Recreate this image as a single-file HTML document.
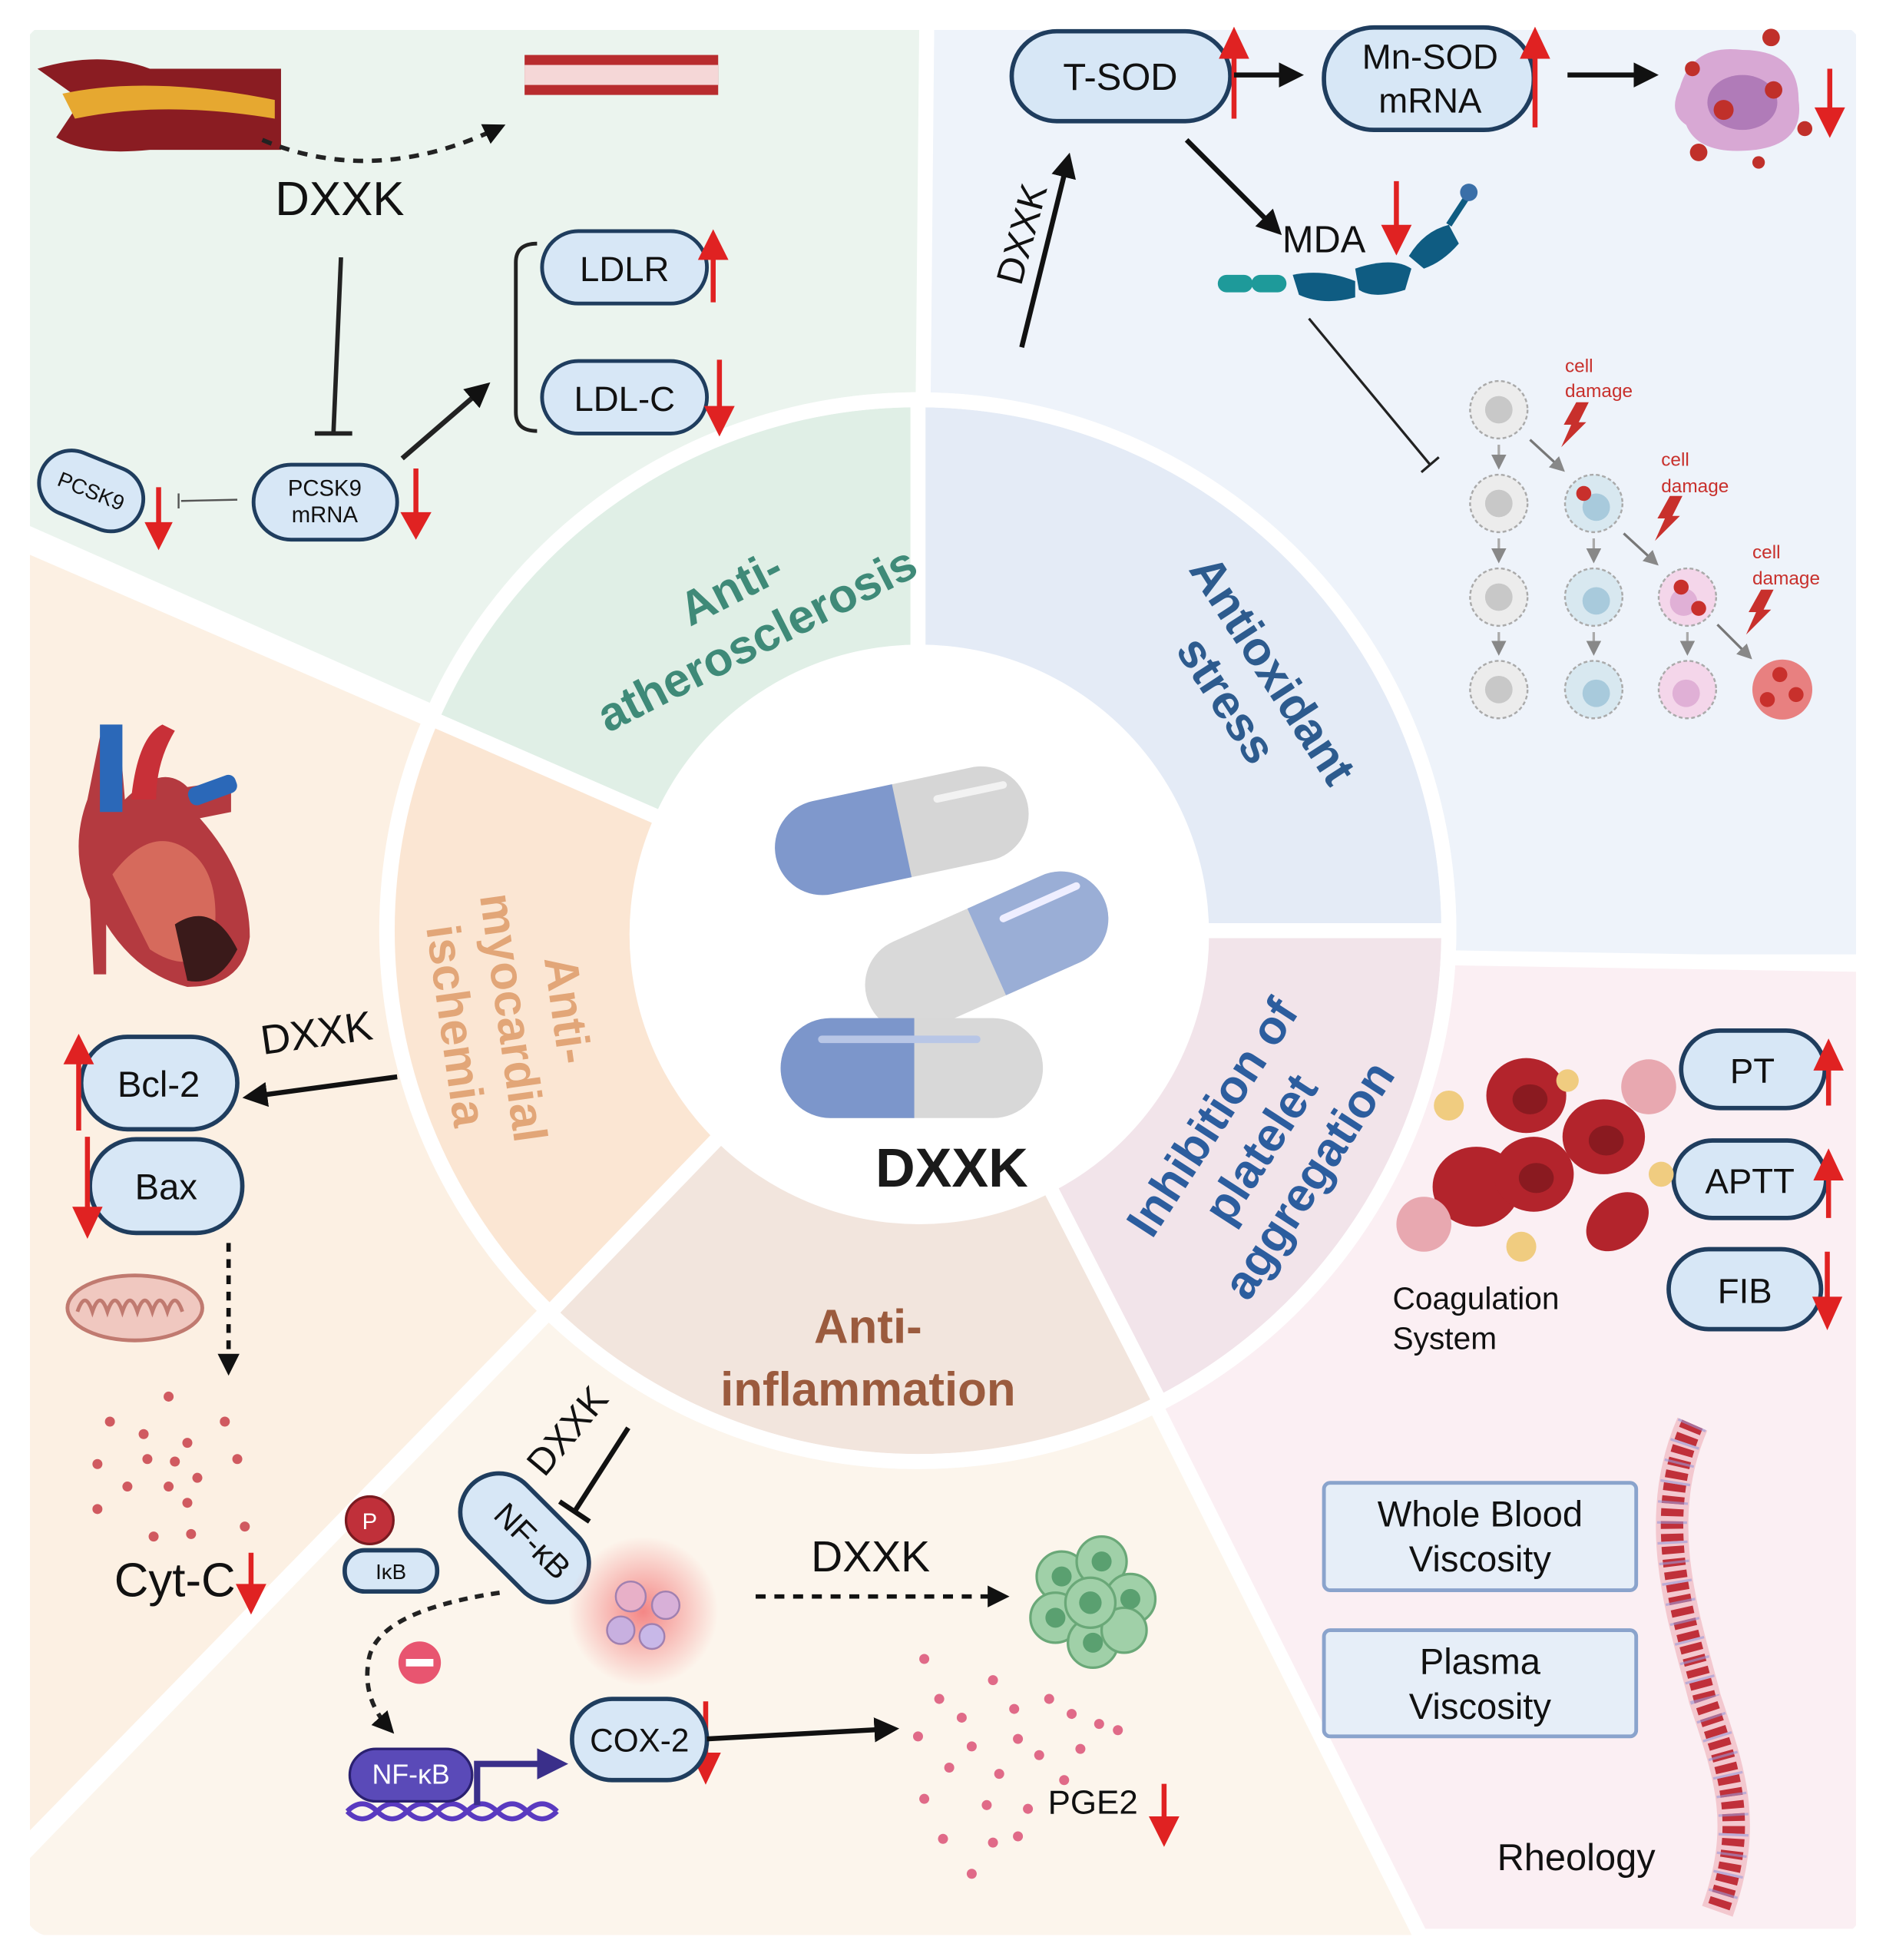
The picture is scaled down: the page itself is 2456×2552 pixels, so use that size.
<!DOCTYPE html>
<html><head><meta charset="utf-8"><style>html,body{margin:0;padding:0;background:#fff}svg{display:block}</style></head>
<body>
<svg width="2456" height="2552" viewBox="0 0 1510 1569" preserveAspectRatio="none" xmlns="http://www.w3.org/2000/svg" font-family="Liberation Sans, sans-serif">
<defs>
<marker id="ah" markerWidth="5" markerHeight="5" refX="3.5" refY="2.5" orient="auto" markerUnits="strokeWidth"><path d="M0,0 L5,2.5 L0,5 z" fill="#111"/></marker>
<marker id="ahg" markerWidth="6" markerHeight="6" refX="4" refY="3" orient="auto" markerUnits="strokeWidth"><path d="M0,0 L6,3 L0,6 z" fill="#888"/></marker>
<marker id="ahp" markerWidth="5" markerHeight="5" refX="3" refY="2.5" orient="auto" markerUnits="strokeWidth"><path d="M0,0 L5,2.5 L0,5 z" fill="#3a2f8a"/></marker>
<radialGradient id="glow"><stop offset="0" stop-color="#f37a7a" stop-opacity="0.9"/><stop offset="1" stop-color="#f37a7a" stop-opacity="0"/></radialGradient>
</defs>
<rect width="1510" height="1569" fill="#fff"/>
<!-- panels -->
<g stroke="#fff" stroke-width="12" stroke-linejoin="round">
<polygon points="18,18 742,18 742,745 18,425" fill="#ebf4ee"/>
<polygon points="742,18 1492,18 1492,770 735,770 735,745" fill="#eef3fa"/>
<polygon points="735,760 1492,772 1492,1550 1135,1550" fill="#fbeff3"/>
<polygon points="735,745 1140,1555 18,1555 18,1485" fill="#fcf5ec"/>
<polygon points="18,435 735,745 18,1480" fill="#fcf0e3"/>
</g>
<rect x="12" y="12" width="1486" height="1545" rx="30" fill="none" stroke="#fff" stroke-width="14"/>
<!-- ring sectors -->
<g stroke="#fff" stroke-width="12">
<path d="M735,745 L735,320 A425,425 0 0 0 345,575 Z" fill="#e0efe6"/>
<path d="M735,745 L735,320 A425,425 0 0 1 1160,745 Z" fill="#e4ebf6"/>
<path d="M735,745 L1160,745 A425,425 0 0 1 929,1123 Z" fill="#f2e4ea"/>
<path d="M735,745 L929,1123 A425,425 0 0 1 440,1051 Z" fill="#f2e5dd"/>
<path d="M735,745 L440,1051 A425,425 0 0 1 345,575 Z" fill="#fbe6d3"/>
</g>
<circle cx="735" cy="745" r="425" fill="none" stroke="#fff" stroke-width="12"/>
<circle cx="736" cy="748" r="232" fill="#fff"/>
<!-- sector labels -->
<g font-weight="bold" font-size="38" text-anchor="middle">
<text transform="translate(600,500) rotate(-27)" fill="#3f8a78"><tspan x="0" y="-20">Anti-</tspan><tspan x="0" y="26">atherosclerosis</tspan></text>
<text transform="translate(998,550) rotate(57)" fill="#2d5b8e"><tspan x="0" y="-12">Antioxidant</tspan><tspan x="0" y="32">stress</tspan></text>
<text transform="translate(1010,920) rotate(-57)" fill="#2c5d9e"><tspan x="0" y="-34">Inhibition of</tspan><tspan x="0" y="12">platelet</tspan><tspan x="0" y="58">aggregation</tspan></text>
<text x="695" y="1075" fill="#9b5b3e">Anti-</text><text x="695" y="1125" fill="#9b5b3e">inflammation</text>
<text transform="translate(408,815) rotate(82)" fill="#e2a678"><tspan x="0" y="-34">Anti-</tspan><tspan x="0" y="10">myocardial</tspan><tspan x="0" y="56">ischemia</tspan></text>
</g>
<!-- pills -->
<g transform="translate(722,665) rotate(-12)">
<rect x="-103" y="-38" width="206" height="76" rx="38" fill="#d6d6d6"/><path d="M0,-38 H-65 A38,38 0 0 0 -65,38 H0 Z" fill="#7f98cc"/><rect x="30" y="-22" width="60" height="6" rx="3" fill="#f2f2f2"/></g>
<g transform="translate(790,762) rotate(-24)">
<rect x="-103" y="-38" width="206" height="76" rx="38" fill="#d9d9d9"/><path d="M0,-38 H65 A38,38 0 0 1 65,38 H0 Z" fill="#9aaed6"/><rect x="20" y="-22" width="70" height="6" rx="3" fill="#eef"/></g>
<g transform="translate(730,855)">
<rect x="-105" y="-40" width="210" height="80" rx="40" fill="#d8d8d8"/><path d="M2,-40 H-65 A40,40 0 0 0 -65,40 H2 Z" fill="#7c96cb"/><rect x="-75" y="-26" width="130" height="6" rx="3" fill="#b8c6e6"/></g>
<text x="762" y="950" font-size="44" font-weight="bold" text-anchor="middle" fill="#1a1a1a">DXXK</text>

<!-- TOP LEFT -->
<path d="M30,55 Q80,40 120,55 L225,55 L225,120 L120,120 Q70,125 45,110 L65,80 Z" fill="#8a1c22"/>
<path d="M50,75 Q120,60 220,80 L220,95 Q130,80 60,95 Z" fill="#e6a830"/>
<rect x="420" y="44" width="155" height="32" fill="#b82c2e"/><rect x="420" y="52" width="155" height="16" fill="#f5d7d7"/>
<path d="M210,112 Q300,150 400,102" fill="none" stroke="#222" stroke-width="3.5" stroke-dasharray="8,7" marker-end="url(#ah)"/>
<text x="272" y="172" font-size="38" text-anchor="middle" fill="#111">DXXK</text>
<line x1="273" y1="206" x2="267" y2="346" stroke="#222" stroke-width="3.5"/><line x1="252" y1="347" x2="282" y2="347" stroke="#222" stroke-width="3.5"/>
<g stroke="#1f3d5e" stroke-width="3" fill="#d7e7f6">
<rect x="203" y="372" width="115" height="60" rx="30"/>
<rect x="30" y="367" width="86" height="52" rx="26" transform="rotate(22,73,393)"/>
<rect x="434" y="185" width="132" height="58" rx="29"/>
<rect x="434" y="289" width="132" height="58" rx="29"/>
</g>
<text x="260" y="397" font-size="18" text-anchor="middle" fill="#111">PCSK9</text><text x="260" y="418" font-size="18" text-anchor="middle" fill="#111">mRNA</text>
<text x="73" y="399" font-size="17" text-anchor="middle" fill="#111" transform="rotate(22,73,393)">PCSK9</text>
<text x="500" y="225" font-size="28" text-anchor="middle" fill="#111">LDLR</text>
<text x="500" y="329" font-size="28" text-anchor="middle" fill="#111">LDL-C</text>
<line x1="190" y1="400" x2="145" y2="401" stroke="#555" stroke-width="1.5"/><line x1="143" y1="395" x2="143" y2="407" stroke="#555" stroke-width="1.5"/>
<line x1="322" y1="367" x2="388" y2="310" stroke="#222" stroke-width="4" marker-end="url(#ah)"/>
<path d="M430,195 Q413,195 413,210 L413,330 Q413,345 430,345" fill="none" stroke="#222" stroke-width="3"/>
<g stroke="#e02222" stroke-width="4" fill="#e02222">
<line x1="127" y1="390" x2="127" y2="428"/><path d="M119,420 L127,436 L135,420 Z"/>
<line x1="333" y1="375" x2="333" y2="420"/><path d="M324,412 L333,428 L342,412 Z"/>
<line x1="571" y1="242" x2="571" y2="198"/><path d="M562,206 L571,188 L580,206 Z"/>
<line x1="576" y1="288" x2="576" y2="335"/><path d="M567,327 L576,345 L585,327 Z"/>
</g>

<!-- TOP RIGHT -->
<g stroke="#1f3d5e" stroke-width="3.5" fill="#d7e7f6">
<rect x="810" y="25" width="175" height="72" rx="36"/>
<rect x="1060" y="22" width="168" height="82" rx="40"/>
</g>
<text x="897" y="72" font-size="30" text-anchor="middle" fill="#111">T-SOD</text>
<text x="1145" y="55" font-size="28" text-anchor="middle" fill="#111">Mn-SOD</text><text x="1145" y="90" font-size="28" text-anchor="middle" fill="#111">mRNA</text>
<g stroke="#e02222" stroke-width="4" fill="#e02222">
<line x1="988" y1="95" x2="988" y2="40"/><path d="M979,45 L988,26 L997,45 Z"/>
<line x1="1229" y1="102" x2="1229" y2="40"/><path d="M1220,45 L1229,26 L1238,45 Z"/>
<line x1="1465" y1="55" x2="1465" y2="98"/><path d="M1456,88 L1465,106 L1474,88 Z"/>
<line x1="1118" y1="145" x2="1118" y2="190"/><path d="M1109,182 L1118,200 L1127,182 Z"/>
</g>
<line x1="988" y1="60" x2="1038" y2="60" stroke="#111" stroke-width="4" marker-end="url(#ah)"/>
<line x1="1255" y1="60" x2="1322" y2="60" stroke="#111" stroke-width="4" marker-end="url(#ah)"/>
<path d="M1345,70 Q1355,35 1395,40 Q1440,40 1440,80 Q1445,115 1405,120 Q1360,125 1350,100 Q1335,90 1345,70 Z" fill="#d8a8d4"/>
<ellipse cx="1395" cy="82" rx="28" ry="22" fill="#b07bb8"/>
<g fill="#c0302a"><circle cx="1418" cy="30" r="7"/><circle cx="1355" cy="55" r="6"/><circle cx="1420" cy="72" r="7"/><circle cx="1380" cy="88" r="8"/><circle cx="1445" cy="103" r="6"/><circle cx="1360" cy="122" r="7"/><circle cx="1408" cy="130" r="5"/></g>
<text transform="translate(828,190) rotate(-75)" font-size="30" text-anchor="middle" fill="#111">DXXK</text>
<line x1="818" y1="278" x2="855" y2="128" stroke="#111" stroke-width="4" marker-end="url(#ah)"/>
<line x1="950" y1="112" x2="1022" y2="184" stroke="#111" stroke-width="4" marker-end="url(#ah)"/>
<text x="1060" y="202" font-size="30" text-anchor="middle" fill="#111">MDA</text>
<rect x="975" y="220" width="28" height="14" rx="7" fill="#1e9a9a"/><rect x="1002" y="220" width="28" height="14" rx="7" fill="#1e9a9a"/>
<path d="M1035,220 Q1060,215 1085,225 L1085,238 Q1060,245 1040,236 Z" fill="#0f5c82"/>
<path d="M1085,215 Q1115,205 1130,215 L1125,232 Q1100,240 1088,232 Z" fill="#0f5c82"/>
<path d="M1128,205 Q1140,185 1160,180 L1168,195 Q1155,210 1140,215 Z" fill="#0f5c82"/>
<line x1="1160" y1="180" x2="1175" y2="157" stroke="#0f5c82" stroke-width="5"/><circle cx="1176" cy="154" r="7" fill="#3a6fa8"/>
<line x1="1048" y1="255" x2="1145" y2="372" stroke="#222" stroke-width="2"/><line x1="1138" y1="378" x2="1152" y2="366" stroke="#222" stroke-width="2"/>
<!-- cell grid -->
<g stroke="#aaa" stroke-width="1.5" stroke-dasharray="3,2">
<circle cx="1200" cy="328" r="23" fill="#ececec"/><circle cx="1200" cy="403" r="23" fill="#ececec"/><circle cx="1200" cy="478" r="23" fill="#ececec"/><circle cx="1200" cy="552" r="23" fill="#ececec"/>
<circle cx="1276" cy="403" r="23" fill="#d8e8f0"/><circle cx="1276" cy="478" r="23" fill="#d8e8f0"/><circle cx="1276" cy="552" r="23" fill="#d8e8f0"/>
<circle cx="1351" cy="478" r="23" fill="#f4d6ea"/><circle cx="1351" cy="552" r="23" fill="#f4d6ea"/>
</g>
<g fill="#c8c8c8"><circle cx="1200" cy="328" r="11"/><circle cx="1200" cy="403" r="11"/><circle cx="1200" cy="478" r="11"/><circle cx="1200" cy="552" r="11"/></g>
<g fill="#a8cadc"><circle cx="1278" cy="406" r="11"/><circle cx="1278" cy="481" r="11"/><circle cx="1278" cy="555" r="11"/></g>
<g fill="#e0b0d6"><circle cx="1348" cy="482" r="11"/><circle cx="1350" cy="555" r="11"/></g>
<circle cx="1427" cy="552" r="24" fill="#e88080"/>
<g fill="#c8302c"><circle cx="1268" cy="395" r="6"/><circle cx="1346" cy="470" r="6"/><circle cx="1360" cy="487" r="6"/><circle cx="1425" cy="540" r="6"/><circle cx="1415" cy="560" r="6"/><circle cx="1438" cy="556" r="6"/></g>
<g stroke="#aaa" stroke-width="2" marker-end="url(#ahg)"><line x1="1200" y1="356" x2="1200" y2="372"/><line x1="1200" y1="431" x2="1200" y2="447"/><line x1="1200" y1="506" x2="1200" y2="521"/><line x1="1276" y1="431" x2="1276" y2="447"/><line x1="1276" y1="506" x2="1276" y2="521"/><line x1="1351" y1="506" x2="1351" y2="521"/></g>
<g stroke="#777" stroke-width="2" marker-end="url(#ahg)"><line x1="1225" y1="352" x2="1250" y2="375"/><line x1="1300" y1="427" x2="1325" y2="450"/><line x1="1375" y1="500" x2="1400" y2="525"/></g>
<g fill="#c8302c" font-size="15"><text x="1253" y="298">cell</text><text x="1253" y="318">damage</text><text x="1330" y="373">cell</text><text x="1330" y="394">damage</text><text x="1403" y="447">cell</text><text x="1403" y="468">damage</text></g>
<g fill="#c8302c"><path d="M1262,322 L1272,322 L1264,338 L1270,338 L1250,358 L1258,340 L1252,340 Z"/><path d="M1337,397 L1347,397 L1339,413 L1345,413 L1325,433 L1333,415 L1327,415 Z"/><path d="M1410,472 L1420,472 L1412,488 L1418,488 L1398,508 L1406,490 L1400,490 Z"/></g>

<!-- RIGHT BOTTOM -->
<g stroke="#1f3d5e" stroke-width="3.5" fill="#d7e7f6">
<rect x="1346" y="825" width="115" height="62" rx="31"/>
<rect x="1340" y="913" width="122" height="62" rx="31"/>
<rect x="1336" y="1000" width="122" height="64" rx="32"/>
</g>
<text x="1403" y="867" font-size="28" text-anchor="middle" fill="#111">PT</text>
<text x="1401" y="955" font-size="28" text-anchor="middle" fill="#111">APTT</text>
<text x="1397" y="1043" font-size="28" text-anchor="middle" fill="#111">FIB</text>
<g stroke="#e02222" stroke-width="4" fill="#e02222">
<line x1="1464" y1="885" x2="1464" y2="848"/><path d="M1455,855 L1464,836 L1473,855 Z"/>
<line x1="1464" y1="975" x2="1464" y2="936"/><path d="M1455,943 L1464,924 L1473,943 Z"/>
<line x1="1463" y1="1002" x2="1463" y2="1048"/><path d="M1454,1040 L1463,1060 L1472,1040 Z"/>
<line x1="1290" y1="1200" x2="1290" y2="1248"/><path d="M1281,1240 L1290,1260 L1299,1240 Z"/>
<line x1="1290" y1="1310" x2="1290" y2="1355"/><path d="M1281,1347 L1290,1367 L1299,1347 Z"/>
</g>
<g fill="#b3242c">
<ellipse cx="1222" cy="877" rx="32" ry="30"/><ellipse cx="1182" cy="950" rx="35" ry="32"/><ellipse cx="1228" cy="940" rx="32" ry="30"/><ellipse cx="1284" cy="910" rx="33" ry="30"/><ellipse cx="1295" cy="978" rx="28" ry="20" transform="rotate(-40,1295,978)"/>
</g>
<g fill="#8a1a20"><ellipse cx="1225" cy="880" rx="14" ry="12"/><ellipse cx="1230" cy="943" rx="14" ry="12"/><ellipse cx="1286" cy="913" rx="14" ry="12"/></g>
<g fill="#e8a8b0"><circle cx="1320" cy="870" r="22"/><circle cx="1140" cy="980" r="22"/></g>
<g fill="#f0cc80"><circle cx="1160" cy="885" r="12"/><circle cx="1255" cy="865" r="9"/><circle cx="1218" cy="998" r="12"/><circle cx="1330" cy="940" r="10"/></g>
<text x="1115" y="1048" font-size="25" fill="#111">Coagulation</text><text x="1115" y="1080" font-size="25" fill="#111">System</text>
<g stroke="#8aa3cc" stroke-width="3" fill="#e6eef8">
<rect x="1060" y="1187" width="250" height="86" rx="5"/>
<rect x="1060" y="1305" width="250" height="85" rx="5"/>
</g>
<text x="1185" y="1222" font-size="29" text-anchor="middle" fill="#111">Whole Blood</text><text x="1185" y="1258" font-size="29" text-anchor="middle" fill="#111">Viscosity</text>
<text x="1185" y="1340" font-size="29" text-anchor="middle" fill="#111">Plasma</text><text x="1185" y="1376" font-size="29" text-anchor="middle" fill="#111">Viscosity</text>
<text x="1262" y="1497" font-size="30" text-anchor="middle" fill="#111">Rheology</text>
<path d="M1355,1140 C1320,1220 1350,1300 1365,1360 C1385,1420 1400,1460 1375,1530" fill="none" stroke="#f3c8cf" stroke-width="26"/>
<path d="M1355,1140 C1320,1220 1350,1300 1365,1360 C1385,1420 1400,1460 1375,1530" fill="none" stroke="#c0303a" stroke-width="18" stroke-dasharray="6,4"/>
<path d="M1355,1140 C1320,1220 1350,1300 1365,1360 C1385,1420 1400,1460 1375,1530" fill="none" stroke="#9a9ad8" stroke-width="24" stroke-dasharray="2,14" opacity="0.6"/>

<!-- LEFT -->
<path d="M80,590 L95,580 L100,640 Q130,610 150,630 L185,625 L185,650 L160,655 Q200,700 200,750 Q195,790 150,790 Q110,780 85,740 L85,780 L75,780 L72,720 Q55,680 70,640 Z" fill="#b43a40"/>
<path d="M90,700 Q120,660 150,680 Q180,700 170,760 Q150,780 120,760 Z" fill="#d66a5c"/>
<path d="M140,740 Q170,720 190,760 Q175,790 150,785 Z" fill="#3a1a1a"/>
<rect x="80" y="580" width="18" height="70" fill="#2b68b8"/><rect x="150" y="625" width="40" height="15" rx="6" fill="#2b68b8" transform="rotate(-20,170,632)"/>
<path d="M105,640 Q110,590 130,580 L140,585 Q125,610 125,640 Z" fill="#c83038"/>
<text transform="translate(255,838) rotate(-8)" font-size="33" text-anchor="middle" fill="#111">DXXK</text>
<line x1="318" y1="862" x2="200" y2="878" stroke="#111" stroke-width="4" marker-end="url(#ah)"/>
<g stroke="#1f3d5e" stroke-width="3.5" fill="#d7e7f6">
<rect x="65" y="830" width="125" height="74" rx="37"/>
<rect x="72" y="912" width="122" height="75" rx="37"/>
</g>
<text x="127" y="878" font-size="29" text-anchor="middle" fill="#111">Bcl-2</text>
<text x="133" y="960" font-size="29" text-anchor="middle" fill="#111">Bax</text>
<g stroke="#e02222" stroke-width="4" fill="#e02222">
<line x1="63" y1="905" x2="63" y2="845"/><path d="M54,850 L63,832 L72,850 Z"/>
<line x1="70" y1="910" x2="70" y2="975"/><path d="M61,968 L70,987 L79,968 Z"/>
<line x1="201" y1="1243" x2="201" y2="1276"/><path d="M192,1270 L201,1288 L210,1270 Z"/>
<line x1="932" y1="1428" x2="932" y2="1462"/><path d="M923,1456 L932,1474 L941,1456 Z"/>
<line x1="565" y1="1362" x2="565" y2="1412"/><path d="M556,1405 L565,1424 L574,1405 Z"/>
</g>
<ellipse cx="108" cy="1047" rx="54" ry="26" fill="#f0c8c0" stroke="#c07a70" stroke-width="3"/>
<path d="M62,1050 q6,-18 12,0 q6,-18 12,0 q6,-18 12,0 q6,-18 12,0 q6,-18 12,0 q6,-18 12,0 q6,-18 12,0" fill="none" stroke="#c07a70" stroke-width="3"/>
<line x1="183" y1="995" x2="183" y2="1096" stroke="#111" stroke-width="3.5" stroke-dasharray="7,6" marker-end="url(#ah)"/>
<g fill="#d05a60"><circle cx="135" cy="1118" r="4"/><circle cx="88" cy="1138" r="4"/><circle cx="115" cy="1148" r="4"/><circle cx="180" cy="1138" r="4"/><circle cx="150" cy="1155" r="4"/><circle cx="78" cy="1172" r="4"/><circle cx="118" cy="1168" r="4"/><circle cx="140" cy="1170" r="4"/><circle cx="190" cy="1168" r="4"/><circle cx="102" cy="1190" r="4"/><circle cx="135" cy="1190" r="4"/><circle cx="158" cy="1183" r="4"/><circle cx="78" cy="1208" r="4"/><circle cx="150" cy="1203" r="4"/><circle cx="123" cy="1230" r="4"/><circle cx="153" cy="1228" r="4"/><circle cx="196" cy="1222" r="4"/></g>
<text x="140" y="1278" font-size="38" text-anchor="middle" fill="#111">Cyt-C</text>

<!-- BOTTOM -->
<text transform="translate(462,1152) rotate(-50)" font-size="30" text-anchor="middle" fill="#111">DXXK</text>
<line x1="503" y1="1143" x2="460" y2="1210" stroke="#111" stroke-width="4"/><line x1="448" y1="1202" x2="472" y2="1218" stroke="#111" stroke-width="4"/>
<g stroke="#1f3d5e" stroke-width="3.5" fill="#d7e7f6">
<rect x="360" y="1200" width="120" height="62" rx="31" transform="rotate(45,420,1231)"/>
<rect x="276" y="1241" width="74" height="33" rx="16"/>
<rect x="458" y="1360" width="108" height="65" rx="32"/>
</g>
<text transform="translate(420,1240) rotate(45)" font-size="26" text-anchor="middle" fill="#111">NF-κB</text>
<circle cx="296" cy="1217" r="19" fill="#c0303a" stroke="#7a1a20" stroke-width="2"/><text x="296" y="1224" font-size="18" text-anchor="middle" fill="#fff">P</text>
<text x="313" y="1264" font-size="17" text-anchor="middle" fill="#111">IκB</text>
<path d="M400,1275 Q300,1290 295,1330 Q290,1360 312,1384" fill="none" stroke="#222" stroke-width="3.5" stroke-dasharray="7,6" marker-end="url(#ah)"/>
<circle cx="336" cy="1331" r="17" fill="#e85570"/><rect x="325" y="1328" width="22" height="6" fill="#fff"/>
<path d="M278,1450 q12,-12 24,0 q12,12 24,0 q12,-12 24,0 q12,12 24,0 q12,-12 24,0 q12,12 24,0 q12,-12 24,0" fill="none" stroke="#5a3ac0" stroke-width="4"/>
<path d="M278,1450 q12,12 24,0 q12,-12 24,0 q12,12 24,0 q12,-12 24,0 q12,12 24,0 q12,-12 24,0 q12,12 24,0" fill="none" stroke="#5a3ac0" stroke-width="4"/>
<rect x="280" y="1400" width="98" height="42" rx="21" fill="#5a4ab8" stroke="#2a2070" stroke-width="2"/>
<text x="329" y="1428" font-size="22" text-anchor="middle" fill="#fff">NF-κB</text>
<path d="M382,1445 L382,1412 L445,1412" fill="none" stroke="#3a2f8a" stroke-width="5" marker-end="url(#ahp)"/>
<text x="512" y="1402" font-size="26" text-anchor="middle" fill="#111">COX-2</text>
<line x1="566" y1="1392" x2="714" y2="1384" stroke="#111" stroke-width="4" marker-end="url(#ah)"/>
<circle cx="515" cy="1290" r="60" fill="url(#glow)"/>
<g stroke="#a080b0" stroke-width="1.5"><circle cx="505" cy="1278" r="12" fill="#e8b0c8"/><circle cx="533" cy="1285" r="11" fill="#d8b0d8"/><circle cx="497" cy="1305" r="11" fill="#c8b0e0"/><circle cx="522" cy="1310" r="10" fill="#c8b8e8"/></g>
<line x1="605" y1="1278" x2="803" y2="1278" stroke="#111" stroke-width="3.5" stroke-dasharray="8,7" marker-end="url(#ah)"/>
<text x="697" y="1258" font-size="35" text-anchor="middle" fill="#111">DXXK</text>
<g fill="#a0d0a8" stroke="#6aa878" stroke-width="2"><circle cx="850" cy="1262" r="20"/><circle cx="882" cy="1250" r="20"/><circle cx="905" cy="1280" r="20"/><circle cx="845" cy="1295" r="20"/><circle cx="875" cy="1315" r="20"/><circle cx="900" cy="1305" r="18"/><circle cx="873" cy="1283" r="20"/></g>
<g fill="#5aa070"><circle cx="873" cy="1283" r="9"/><circle cx="850" cy="1262" r="8"/><circle cx="882" cy="1250" r="8"/><circle cx="905" cy="1280" r="8"/><circle cx="845" cy="1295" r="8"/><circle cx="875" cy="1315" r="8"/></g>
<g fill="#e06a88"><circle cx="740" cy="1328" r="4"/><circle cx="795" cy="1345" r="4"/><circle cx="752" cy="1360" r="4"/><circle cx="770" cy="1375" r="4"/><circle cx="812" cy="1368" r="4"/><circle cx="840" cy="1360" r="4"/><circle cx="858" cy="1372" r="4"/><circle cx="880" cy="1380" r="4"/><circle cx="895" cy="1385" r="4"/><circle cx="735" cy="1390" r="4"/><circle cx="778" cy="1398" r="4"/><circle cx="815" cy="1392" r="4"/><circle cx="832" cy="1405" r="4"/><circle cx="865" cy="1400" r="4"/><circle cx="760" cy="1415" r="4"/><circle cx="800" cy="1420" r="4"/><circle cx="852" cy="1425" r="4"/><circle cx="740" cy="1440" r="4"/><circle cx="790" cy="1445" r="4"/><circle cx="823" cy="1448" r="4"/><circle cx="755" cy="1472" r="4"/><circle cx="795" cy="1475" r="4"/><circle cx="815" cy="1470" r="4"/><circle cx="778" cy="1500" r="4"/></g>
<text x="875" y="1452" font-size="27" text-anchor="middle" fill="#111">PGE2</text>
</svg>
</body></html>
